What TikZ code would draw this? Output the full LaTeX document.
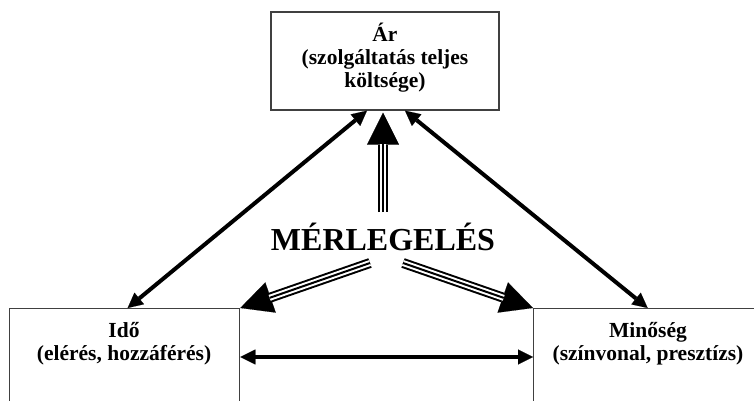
\documentclass[tikz,border=0pt]{standalone}
\usepackage{fontspec}
\setmainfont{Liberation Serif}
\usetikzlibrary{arrows.meta,calc}

\tikzset{
  box/.style={draw=black!75, line width=1.3pt, inner sep=0pt},
  boxtext/.style={font=\fontsize{21.5}{23}\selectfont\bfseries, align=center, inner sep=0pt},
  thinarrow/.style={line width=4pt,
    {Triangle[length=15pt,width=15pt,line width=0.1pt]}-{Triangle[length=15pt,width=15pt,line width=0.1pt]}},
  triplearrow/.style={line width=10pt,
    -{Triangle[length=32pt,width=32pt,line width=0.1pt]},
    postaction={draw=white, line width=6pt, -, shorten >=31pt},
    postaction={draw=black, line width=2pt, -, shorten >=31pt}},
}

\begin{document}
\begin{tikzpicture}[x=1pt, y=-1pt]
  \useasboundingbox (0,0) rectangle (754,401);
  \clip (0,0) rectangle (754,401);

  % the three boxes (text anchored at the baseline of its last line)
  \node[box, minimum width=228pt, minimum height=98pt] (ar) at (385,61) {};
  \node[boxtext, anchor=base] (artext) at (385,88)
    {Ár\\(szolgáltatás teljes\\költsége)};

  \node[box, anchor=north west, minimum width=230pt, minimum height=140pt] (ido) at (9,308) {};
  \node[boxtext, anchor=base] (idotext) at (124,360) {Idő\\(elérés, hozzáférés)};

  \node[box, anchor=north west, minimum width=230pt, minimum height=140pt] (mino) at (533,308) {};
  \node[boxtext, anchor=base] (minotext) at (648,360) {Minőség\\(színvonal, presztízs)};

  % central label
  \node[font=\fontsize{32}{34}\selectfont\bfseries, inner sep=0pt, anchor=base]
    (merl) at (383,250) {MÉRLEGELÉS};

  \coordinate (mup) at ($(merl.base)+(0,-38)$);
  \coordinate (mleft) at ($(merl.base)+(-13,13)$);
  \coordinate (mright) at ($(merl.base)+(20,13)$);

  % trade-off arrows between the three factors
  \draw[thinarrow] ($(ido.north)+(3,0)$) -- ($(ar.south)+(-18,0)$);
  \draw[thinarrow] ($(ar.south)+(20,0)$) -- ($(mino.north)+(-1,0)$);
  \draw[thinarrow] ($(ido.north east)+(0,49)$) -- ($(mino.north west)+(0,49)$);

  % triple-line arrows from the balancing label
  \draw[triplearrow] (mup) -- ($(ar.south)+(-2,2)$);
  \draw[triplearrow] (mleft) -- (ido.north east);
  \draw[triplearrow] (mright) -- (mino.north west);
\end{tikzpicture}
\end{document}
